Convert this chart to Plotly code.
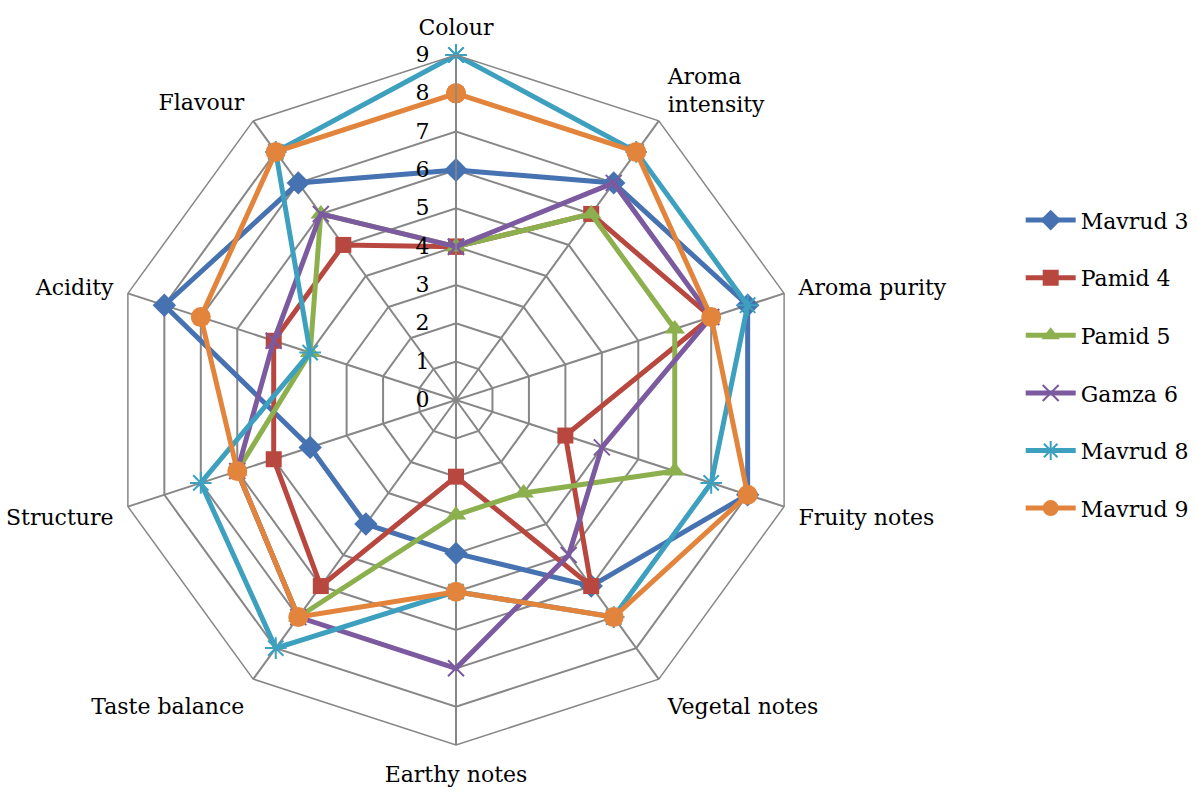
import plotly.graph_objects as go

categories = ["Colour", "Aroma<br>intensity", "Aroma purity", "Fruity notes", "Vegetal notes",
              "Earthy notes", "Taste balance", "Structure", "Acidity", "Flavour"]

mavrud_3 = [6, 7, 8, 8, 6, 4, 4, 4, 8, 7]
pamid_4 = [4, 6, 7, 3, 6, 2, 6, 5, 5, 5]
pamid_5 = [4, 6, 6, 6, 3, 3, 7, 6, 4, 6]
gamza_6 = [4, 7, 7, 4, 5, 7, 7, 6, 5, 6]
mavrud_8 = [9, 8, 8, 7, 7, 5, 8, 7, 4, 8]
mavrud_9 = [8, 8, 7, 8, 7, 5, 7, 6, 7, 8]

series_names = ["Mavrud 3", "Pamid 4", "Pamid 5", "Gamza 6", "Mavrud 8", "Mavrud 9"]
series_values = [mavrud_3, pamid_4, pamid_5, gamza_6, mavrud_8, mavrud_9]
colors = ["#4672B1", "#B8483F", "#8DB04E", "#7B5A9F", "#3DA0BF", "#E2843C"]
symbols = ["diamond", "square", "triangle-up", "x-thin", "asterisk", "circle"]
sizes = [18, 16, 18, 16, 18, 20]

FONT = "DejaVu Serif, serif"
GRID = "#878787"

fig = go.Figure()
for i, (name, vals) in enumerate(zip(series_names, series_values)):
    thin = symbols[i] in ("x-thin", "asterisk")
    fig.add_trace(go.Scatterpolar(
        r=vals + vals[:1],
        theta=categories + categories[:1],
        mode="lines+markers",
        name=name,
        legendgroup=name,
        line=dict(color=colors[i], width=5),
        marker=dict(symbol=symbols[i], size=sizes[i], color=colors[i],
                    line=dict(color=colors[i], width=2 if thin else 0)),
    ))

fig.update_layout(
    width=1198, height=792,
    margin=dict(l=0, r=0, t=0, b=0),
    paper_bgcolor="white",
    plot_bgcolor="white",
    font=dict(family=FONT, size=22, color="black"),
    polar=dict(
        domain=dict(x=[111 / 1198, 801 / 1198], y=[1 - 745 / 792, 1 - 55 / 792]),
        bgcolor="white",
        gridshape="linear",
        radialaxis=dict(
            range=[0, 9], dtick=1, tick0=0, angle=90, tickangle=90,
            showline=True, linecolor=GRID, linewidth=1.5,
            gridcolor=GRID, gridwidth=1.5,
            ticks="outside", ticklen=18, tickcolor="rgba(0,0,0,0)",
            side="counterclockwise",
            tickfont=dict(family=FONT, size=22, color="black"),
        ),
        angularaxis=dict(
            direction="clockwise", rotation=90,
            showline=True, linecolor=GRID, linewidth=1.5,
            gridcolor=GRID, gridwidth=1.5,
            ticks="outside", ticklen=10, tickcolor="rgba(0,0,0,0)",
            tickfont=dict(family=FONT, size=22, color="black"),
        ),
    ),
    legend=dict(
        x=0.852, y=0.540, xanchor="left", yanchor="middle",
        font=dict(family=FONT, size=22, color="black"),
        tracegroupgap=26,
        itemwidth=50,
    ),
)

fig.write_html("out.html")
